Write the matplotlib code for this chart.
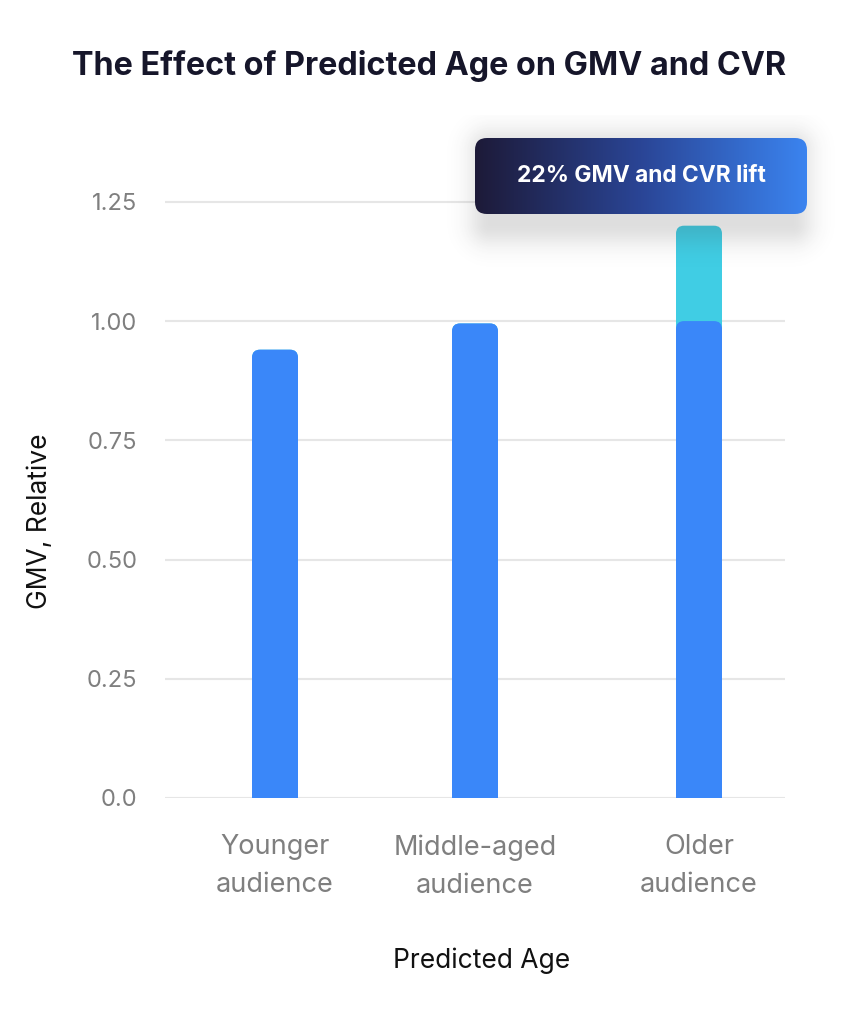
import numpy as np
import matplotlib
matplotlib.use("Agg")
import matplotlib.pyplot as plt
from matplotlib.patches import FancyBboxPatch
from matplotlib.colors import LinearSegmentedColormap

# data
categories = ["Younger\naudience", "Middle-aged\naudience", "Older\naudience"]
base_gmv = [0.94, 0.995, 1.0]
lift_gmv = [0.0, 0.0, 0.2]
yticks = [0.0, 0.25, 0.50, 0.75, 1.00, 1.25]
ytick_labels = ["0.0", "0.25", "0.50", "0.75", "1.00", "1.25"]
callout = "22% GMV and CVR lift"

plt.rcParams["font.family"] = ["Inter", "DejaVu Sans"]

W, H = 858, 1024
fig = plt.figure(figsize=(W / 100, H / 100), dpi=100)

# axes placed in pixels: left 165, right 785, bottom 798, top 178
ax = fig.add_axes([165 / W, 1 - 798 / H, 620 / W, 620 / H])
xpos = [0, 1, 2.12]
ax.set_xlim(-0.55, 2.55)
ax.set_ylim(0, 1.3)

blue = "#3a87f9"
teal = "#40cde4"
bw = 0.23

bars_lift = ax.bar(xpos, [b + l for b, l in zip(base_gmv, lift_gmv)], width=bw, color=teal)
bars_base = ax.bar(xpos, base_gmv, width=bw, color=blue)

# swap plain rectangles for ones with rounded tops
fig.canvas.draw()
px_x = ax.transData.transform((1, 0))[0] - ax.transData.transform((0, 0))[0]
px_y = ax.transData.transform((0, 1))[1] - ax.transData.transform((0, 0))[1]
r = 8 / px_x
aspect = px_x / px_y
for bars, z in ((bars_lift, 2), (bars_base, 3)):
    for p in bars.patches:
        x0, y0, w, h = p.get_x(), p.get_y(), p.get_width(), p.get_height()
        if h <= 0:
            continue
        p.set_visible(False)
        rb = FancyBboxPatch((x0, y0 - 0.05), w, h + 0.05,
                            boxstyle=f"round,pad=0,rounding_size={r}",
                            mutation_aspect=aspect, fc=p.get_facecolor(),
                            ec="none", zorder=z)
        ax.add_patch(rb)

ax.set_yticks(yticks)
ax.set_yticklabels(ytick_labels)
ax.set_xticks(xpos)
ax.set_xticklabels(categories, linespacing=1.6)
ax.tick_params(axis="both", length=0, colors="#7f7f7f")
ax.tick_params(axis="y", pad=20, labelsize=17)
ax.tick_params(axis="x", pad=26, labelsize=19.5)
ax.grid(axis="y", color="#e6e6e6", lw=1.5)
ax.set_axisbelow(True)
for s in ax.spines.values():
    s.set_visible(False)

ax.set_xlabel("Predicted Age", fontsize=19, color="#111111", va="top")
ax.xaxis.set_label_coords((482 - 165) / 620, -(948 - 798) / 620)
ax.set_ylabel("GMV, Relative", fontsize=19, color="#111111", va="center")
ax.yaxis.set_label_coords((40 - 165) / 620, (798 - 521) / 620)

fig.text(0.5, 1 - 66 / H, "The Effect of Predicted Age on GMV and CVR",
         ha="center", va="center", fontsize=23.3, fontweight="bold", color="#16162a")

# soft shadow under the callout
sx0, sx1, sy0, sy1 = 430, 855, 115, 290
sax = fig.add_axes([sx0 / W, 1 - sy1 / H, (sx1 - sx0) / W, (sy1 - sy0) / H])
sax.axis("off")
gx, gy = np.meshgrid(np.arange(sx0, sx1) + 0.5, np.arange(sy0, sy1) + 0.5)
bx0, bx1, by0, by1 = 490, 792, 150, 224
dx = np.maximum(np.maximum(bx0 - gx, gx - bx1), 0)
dy = np.maximum(np.maximum(by0 - gy, gy - by1), 0)
d = np.hypot(dx, dy)
alpha = 0.17 * np.exp(-(d / 22) ** 2)
img = np.zeros(gx.shape + (4,))
img[..., :3] = 0.25
img[..., 3] = alpha
sax.imshow(img, extent=[0, 1, 0, 1], aspect="auto", interpolation="bilinear")
sax.set_xlim(0, 1)
sax.set_ylim(0, 1)

# gradient callout box
bx, by, bwid, bh = 475, 138, 332, 76
cax = fig.add_axes([bx / W, 1 - (by + bh) / H, bwid / W, bh / H])
cax.axis("off")
cax.set_xlim(0, 1)
cax.set_ylim(0, 1)
cmap = LinearSegmentedColormap.from_list("callout", ["#1d1a38", "#2a4596", "#3b84f0"])
grad = np.linspace(0, 1, 256).reshape(1, -1)
im = cax.imshow(grad, cmap=cmap, extent=[0, 1, 0, 1], aspect="auto")
clip = FancyBboxPatch((0, 0), 1, 1, boxstyle=f"round,pad=0,rounding_size={12 / bwid}",
                      mutation_aspect=bwid / bh, fc="none", ec="none",
                      transform=cax.transAxes)
cax.add_patch(clip)
im.set_clip_path(clip)
cax.text(0.5, 0.5, callout, ha="center", va="center", fontsize=16.4,
         fontweight="bold", color="white", transform=cax.transAxes)

fig.savefig("out.png", dpi=100)
